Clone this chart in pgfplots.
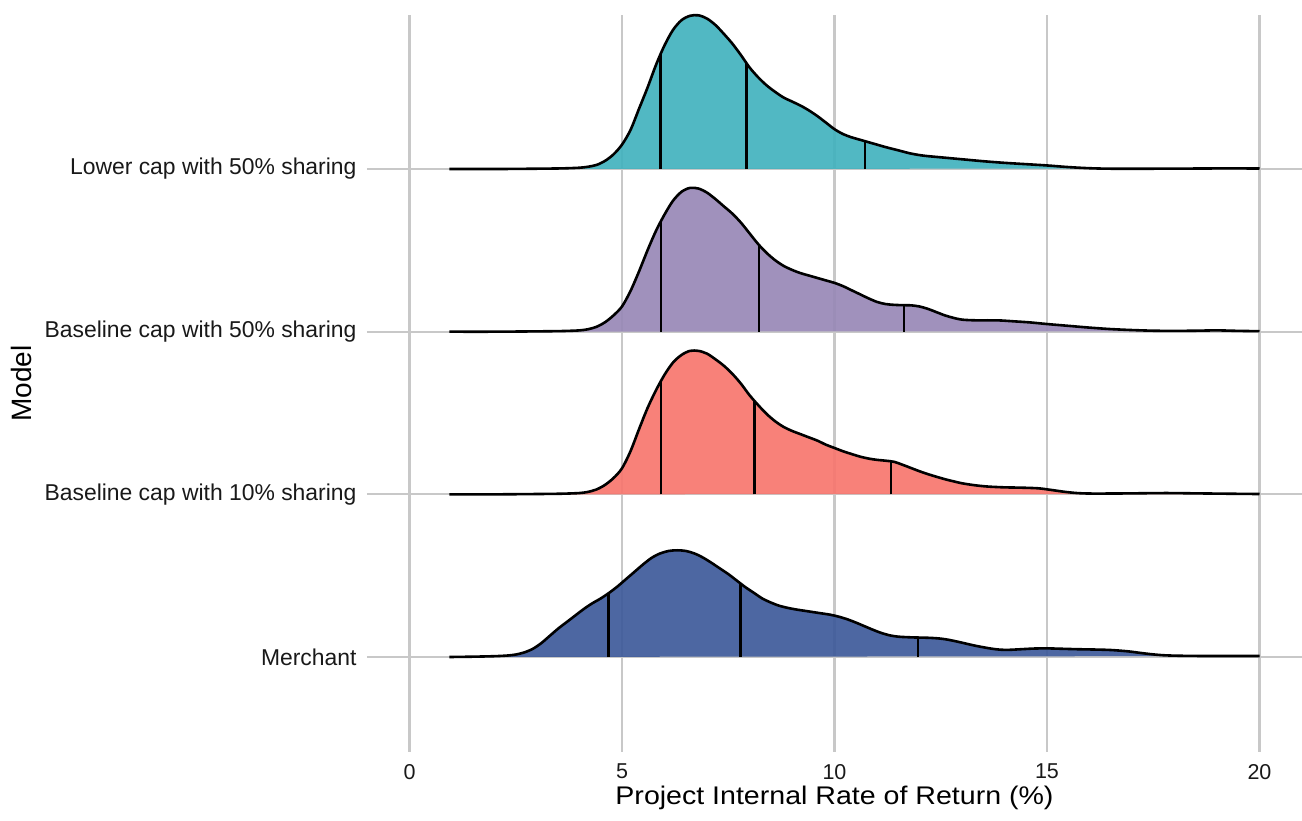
\documentclass[border=0pt]{standalone}
\usepackage{pgfplots}
\pgfplotsset{compat=1.18}
\usepackage{pgfplotstable}
\usepackage{fontspec}
\setmainfont{Liberation Sans}

\definecolor{cteal}{RGB}{66,178,190}
\definecolor{cpurple}{RGB}{152,136,182}
\definecolor{cred}{RGB}{247,118,110}
\definecolor{cblue}{RGB}{62,90,154}
\definecolor{cgrid}{RGB}{200,200,200}

% Lower cap with 50% sharing (row 4)
\pgfplotstableread{
x h
0.94 0
2.0 0.000
3.0 0.002
3.6 0.004
4.0 0.008
4.2 0.014
4.4 0.025
4.6 0.05
4.8 0.09
5.0 0.15
5.2 0.24
5.4 0.37
5.6 0.50
5.8 0.64
6.0 0.76
6.2 0.855
6.4 0.915
6.6 0.942
6.8 0.945
7.0 0.925
7.2 0.885
7.4 0.83
7.6 0.77
7.8 0.70
8.0 0.625
8.2 0.565
8.4 0.515
8.6 0.475
8.8 0.44
9.0 0.415
9.2 0.39
9.4 0.36
9.6 0.325
9.8 0.285
10.0 0.245
10.2 0.215
10.4 0.195
10.6 0.18
10.8 0.165
11.0 0.15
11.2 0.135
11.5 0.115
11.8 0.095
12.1 0.082
12.5 0.072
13.0 0.06
13.5 0.048
14.0 0.038
14.5 0.03
15.0 0.022
15.5 0.012
16.0 0.005
16.5 0.002
17.5 0.002
18.5 0.003
19.3 0.004
20.0 0.003
}\lowercap

% Baseline cap with 50% sharing (row 3)
\pgfplotstableread{
x h
0.94 0
2.0 0.000
3.0 0.002
3.6 0.004
4.0 0.008
4.2 0.015
4.4 0.03
4.6 0.058
4.8 0.10
5.0 0.155
5.2 0.25
5.4 0.37
5.6 0.50
5.8 0.62
6.0 0.72
6.2 0.805
6.4 0.86
6.6 0.884
6.8 0.88
7.0 0.855
7.2 0.815
7.4 0.77
7.6 0.725
7.8 0.67
8.0 0.605
8.2 0.54
8.4 0.485
8.6 0.44
8.8 0.405
9.0 0.38
9.2 0.36
9.4 0.345
9.6 0.33
9.8 0.315
10.0 0.30
10.2 0.28
10.4 0.255
10.6 0.23
10.8 0.205
11.0 0.183
11.2 0.17
11.4 0.165
11.6 0.163
11.8 0.162
12.0 0.155
12.2 0.14
12.4 0.12
12.6 0.10
12.8 0.085
13.0 0.074
13.3 0.07
13.6 0.07
13.9 0.069
14.2 0.064
14.6 0.057
15.0 0.047
15.5 0.036
16.0 0.025
16.5 0.016
17.0 0.01
17.5 0.006
18.0 0.005
18.5 0.006
19.0 0.008
19.5 0.005
20.0 0.003
}\basefifty

% Baseline cap with 10% sharing (row 2)
\pgfplotstableread{
x h
0.94 0
2.0 0.000
3.0 0.002
3.6 0.004
4.0 0.008
4.2 0.015
4.4 0.03
4.6 0.058
4.8 0.10
5.0 0.16
5.2 0.265
5.4 0.40
5.6 0.53
5.8 0.64
6.0 0.735
6.2 0.81
6.4 0.857
6.6 0.882
6.8 0.882
7.0 0.865
7.2 0.83
7.4 0.79
7.6 0.74
7.8 0.68
8.0 0.61
8.2 0.55
8.4 0.495
8.6 0.45
8.8 0.415
9.0 0.39
9.2 0.37
9.4 0.35
9.6 0.33
9.8 0.305
10.0 0.285
10.2 0.265
10.4 0.248
10.6 0.232
10.8 0.22
11.0 0.212
11.2 0.207
11.4 0.2
11.6 0.182
11.8 0.162
12.0 0.142
12.2 0.124
12.4 0.108
12.6 0.093
12.8 0.08
13.0 0.068
13.3 0.056
13.6 0.048
14.0 0.043
14.4 0.041
14.8 0.037
15.1 0.027
15.4 0.016
15.7 0.008
16.0 0.005
16.5 0.005
17.0 0.006
17.8 0.008
18.5 0.006
19.2 0.004
20.0 0.002
}\baseten

% Merchant (row 1)
\pgfplotstableread{
x h
0.94 0
1.5 0.002
2.0 0.005
2.3 0.009
2.5 0.015
2.7 0.028
2.9 0.05
3.1 0.085
3.3 0.13
3.5 0.175
3.7 0.215
3.9 0.255
4.1 0.295
4.3 0.33
4.5 0.36
4.7 0.395
4.9 0.435
5.1 0.48
5.3 0.525
5.5 0.57
5.7 0.61
5.9 0.637
6.1 0.652
6.3 0.656
6.5 0.652
6.7 0.637
6.9 0.612
7.1 0.58
7.3 0.545
7.5 0.51
7.7 0.47
7.9 0.43
8.1 0.395
8.3 0.36
8.5 0.335
8.7 0.315
8.9 0.302
9.1 0.292
9.3 0.284
9.5 0.276
9.7 0.268
9.9 0.26
10.1 0.248
10.3 0.232
10.5 0.212
10.7 0.19
10.9 0.168
11.1 0.148
11.3 0.133
11.5 0.125
11.7 0.122
11.9 0.12
12.1 0.119
12.3 0.117
12.5 0.113
12.7 0.105
12.9 0.094
13.1 0.082
13.3 0.07
13.5 0.06
13.7 0.051
13.9 0.045
14.1 0.044
14.4 0.048
14.7 0.052
15.0 0.053
15.3 0.051
15.7 0.048
16.1 0.046
16.5 0.043
16.9 0.035
17.2 0.025
17.5 0.016
17.8 0.01
18.3 0.007
19.0 0.006
20.0 0.006
}\merchant

\begin{document}
\begin{tikzpicture}
\begin{axis}[
  name=ax,
  scale only axis,
  width=935pt, height=737pt,
  xmin=-1, xmax=21,
  ymin=0.416, ymax=4.947,
  clip=false,
  axis line style={draw=none},
  major tick length=0pt,
  xtick={0,5,10,15,20},
  ytick={1,2,3,4},
  yticklabels={Merchant, Baseline cap with 10\% sharing, Baseline cap with 50\% sharing, Lower cap with 50\% sharing},
  xmajorgrids, ymajorgrids,
  grid style={line width=2.2pt, color=cgrid},
  /pgf/number format/assume math mode=true,
  tick label style={text=black!90},
  xticklabel style={inner sep=0pt, yshift=-12pt, font=\fontsize{21.5}{25}\selectfont},
  yticklabel style={xshift=-7pt, font=\fontsize{22.9}{27}\selectfont},
  xlabel={Project Internal Rate of Return (\%)},
  ylabel={Model},
  xlabel style={inner sep=0pt, at={(axis description cs:0.5,-0.0719)}, anchor=base, xscale=1.12, font=\fontsize{25.5}{30}\selectfont},
  ylabel style={inner sep=0pt, at={(axis description cs:-0.3583,0.5)}, anchor=base, rotate=0, font=\fontsize{28}{32}\selectfont},
]
% Lower cap
\addplot[draw=none, fill=cteal, fill opacity=0.92, smooth] table[x=x, y expr=\thisrow{h}+4] {\lowercap} -- cycle;
\addplot[black, line width=2.4pt] coordinates {(5.91,4) (5.91,4.71)};
\addplot[black, line width=2.4pt] coordinates {(7.93,4) (7.93,4.65)};
\addplot[black, line width=2.4pt] coordinates {(10.72,4) (10.72,4.171)};
\addplot[black, line width=2.6pt, smooth] table[x=x, y expr=\thisrow{h}+4] {\lowercap};
% Baseline 50
\addplot[draw=none, fill=cpurple, fill opacity=0.92, smooth] table[x=x, y expr=\thisrow{h}+3] {\basefifty} -- cycle;
\addplot[black, line width=2.4pt] coordinates {(5.92,3) (5.92,3.68)};
\addplot[black, line width=2.4pt] coordinates {(8.22,3) (8.22,3.535)};
\addplot[black, line width=2.4pt] coordinates {(11.64,3) (11.64,3.163)};
\addplot[black, line width=2.6pt, smooth] table[x=x, y expr=\thisrow{h}+3] {\basefifty};
% Baseline 10
\addplot[draw=none, fill=cred, fill opacity=0.92, smooth] table[x=x, y expr=\thisrow{h}+2] {\baseten} -- cycle;
\addplot[black, line width=2.4pt] coordinates {(5.92,2) (5.92,2.70)};
\addplot[black, line width=2.4pt] coordinates {(8.12,2) (8.12,2.575)};
\addplot[black, line width=2.4pt] coordinates {(11.33,2) (11.33,2.202)};
\addplot[black, line width=2.6pt, smooth] table[x=x, y expr=\thisrow{h}+2] {\baseten};
% Merchant
\addplot[draw=none, fill=cblue, fill opacity=0.92, smooth] table[x=x, y expr=\thisrow{h}+1] {\merchant} -- cycle;
\addplot[black, line width=2.4pt] coordinates {(4.68,1) (4.68,1.391)};
\addplot[black, line width=2.4pt] coordinates {(7.79,1) (7.79,1.452)};
\addplot[black, line width=2.4pt] coordinates {(11.97,1) (11.97,1.12)};
\addplot[black, line width=2.6pt, smooth] table[x=x, y expr=\thisrow{h}+1] {\merchant};
\end{axis}
\pgfresetboundingbox
\path (ax.south west) ++(-367pt,-69pt) rectangle ++(1302pt,821pt);
\end{tikzpicture}
\end{document}
